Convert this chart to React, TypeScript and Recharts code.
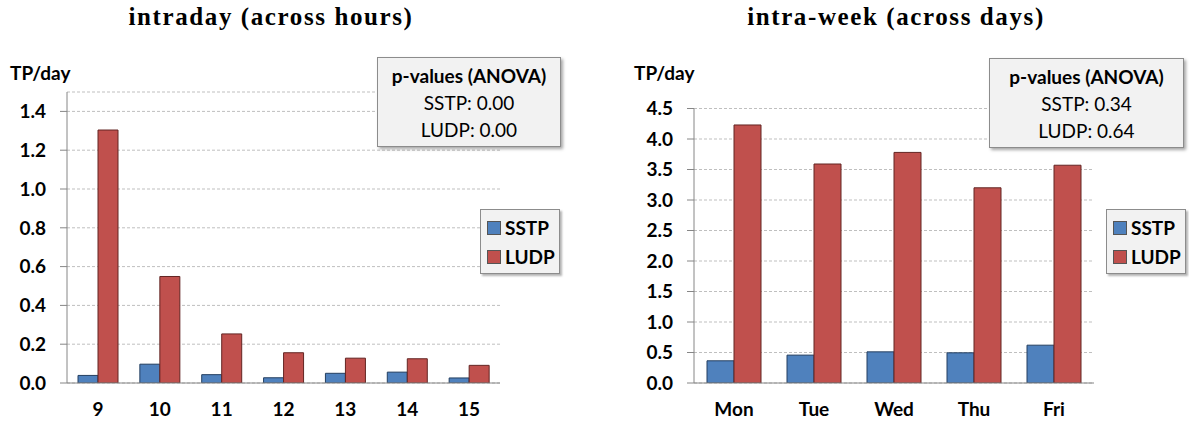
import { Bar, BarChart, CartesianGrid, XAxis, YAxis } from "recharts";

const hours = ["9", "10", "11", "12", "13", "14", "15"];
const hourSSTP = [0.039, 0.097, 0.043, 0.027, 0.05, 0.056, 0.026];
const hourLUDP = [1.304, 0.549, 0.253, 0.156, 0.128, 0.125, 0.091];
const hourTicks = [0, 0.2, 0.4, 0.6, 0.8, 1.0, 1.2, 1.4];

const days = ["Mon", "Tue", "Wed", "Thu", "Fri"];
const daySSTP = [0.364, 0.457, 0.511, 0.495, 0.62];
const dayLUDP = [4.23, 3.59, 3.78, 3.2, 3.57];
const dayTicks = [0, 0.5, 1.0, 1.5, 2.0, 2.5, 3.0, 3.5, 4.0, 4.5];

const pHours = ["SSTP: 0.00", "LUDP: 0.00"];
const pDays = ["SSTP: 0.34", "LUDP: 0.64"];

const hourData = hours.map((h, i) => ({ name: h, SSTP: hourSSTP[i], LUDP: hourLUDP[i] }));
const dayData = days.map((d, i) => ({ name: d, SSTP: daySSTP[i], LUDP: dayLUDP[i] }));

const SANS = "Lato, 'Open Sans', sans-serif";
const BLUE = "#4F81BD";
const RED = "#C0504D";
const series = [
  { key: "SSTP", color: BLUE, edge: "#243F60" },
  { key: "LUDP", color: RED, edge: "#632523" },
];

function LegendBox({ left }: { left: number }) {
  return (
    <div
      style={{
        position: "absolute",
        left,
        top: 209,
        width: 80,
        height: 65,
        boxSizing: "border-box",
        background: "#f2f2f2",
        border: "1px solid #8c8c8c",
        boxShadow: "2px 2px 2px rgba(0,0,0,0.3)",
        padding: "3px 0 0 6px",
        fontFamily: SANS,
        fontWeight: 700,
        fontSize: 19,
      }}
    >
      {series.map((s) => (
        <div key={s.key} style={{ display: "flex", alignItems: "center", height: 29 }}>
          <span
            style={{
              display: "inline-block",
              width: 12,
              height: 12,
              background: s.color,
              border: "1px solid #555",
              marginRight: 4,
            }}
          />
          {s.key}
        </div>
      ))}
    </div>
  );
}

function PBox({ lines, left, top, width }: { lines: string[]; left: number; top: number; width: number }) {
  return (
    <div
      style={{
        position: "absolute",
        left,
        top,
        width,
        height: 90,
        boxSizing: "border-box",
        background: "#f2f2f2",
        border: "1px solid #8c8c8c",
        boxShadow: "2px 2px 3px rgba(0,0,0,0.35)",
        fontFamily: SANS,
        fontSize: 19,
        lineHeight: "27px",
        textAlign: "center",
        paddingTop: 4,
      }}
    >
      <div style={{ fontWeight: 700 }}>p-values (ANOVA)</div>
      {lines.map((l) => (
        <div key={l}>{l}</div>
      ))}
    </div>
  );
}

const tickStyle = { fontFamily: SANS, fontWeight: 700, fontSize: 19, fill: "#000" };

function Panel({
  data,
  ticks,
  domainMax,
  width,
  top,
  right,
  yWidth,
  barSize,
}: {
  data: any[];
  ticks: number[];
  domainMax: number;
  width: number;
  top: number;
  right: number;
  yWidth: number;
  barSize: number;
}) {
  return (
    <BarChart
      width={width}
      height={426}
      data={data}
      margin={{ top, right, left: 0, bottom: 0 }}
      barGap={0}
    >
      <CartesianGrid vertical={false} stroke="#bfbfbf" strokeDasharray="3 2" />
      <XAxis
        dataKey="name"
        height={43}
        tick={tickStyle}
        tickLine={false}
        tickSize={0}
        tickMargin={20}
        stroke="#868686"
      />
      <YAxis
        width={yWidth}
        domain={[0, domainMax]}
        ticks={ticks}
        interval={0}
        tick={tickStyle}
        tickFormatter={(v: number) => v.toFixed(1)}
        tickSize={7}
        tickMargin={14}
        stroke="#868686"
        allowDataOverflow
      />
      {series.map((s) => (
        <Bar
          key={s.key}
          dataKey={s.key}
          fill={s.color}
          stroke={s.edge}
          strokeWidth={1}
          barSize={barSize}
          isAnimationActive={false}
        />
      ))}
    </BarChart>
  );
}

const titleStyle: any = {
  position: "absolute",
  top: 4,
  fontFamily: "'Liberation Serif', 'DejaVu Serif', serif",
  fontWeight: 700,
  fontSize: 25,
  letterSpacing: 1.6,
  lineHeight: "26px",
  whiteSpace: "nowrap",
  transform: "translateX(-50%)",
};

const axisTitle: any = {
  position: "absolute",
  top: 62,
  fontFamily: SANS,
  fontWeight: 700,
  fontSize: 19,
  lineHeight: "22px",
};

export default function App() {
  return (
    <div style={{ position: "absolute", left: 0, top: 0, width: 1189, height: 426, background: "#fff" }}>
      <div style={{ position: "absolute", left: 0, top: 0 }}>
        <Panel data={hourData} ticks={hourTicks} domainMax={1.5} width={600} top={92} right={100} yWidth={67} barSize={20} />
      </div>
      <div style={{ position: "absolute", left: 600, top: 0 }}>
        <Panel data={dayData} ticks={dayTicks} domainMax={4.5} width={589} top={108.5} right={95} yWidth={94} barSize={27} />
      </div>
      <div style={{ ...titleStyle, left: 271 }}>intraday (across hours)</div>
      <div style={{ ...titleStyle, left: 896 }}>intra-week (across days)</div>
      <div style={{ ...axisTitle, left: 10 }}>TP/day</div>
      <div style={{ ...axisTitle, left: 634 }}>TP/day</div>
      <PBox lines={pHours} left={377} top={57} width={184} />
      <PBox lines={pDays} left={989} top={58} width={195} />
      <LegendBox left={480} />
      <LegendBox left={1106} />
    </div>
  );
}
